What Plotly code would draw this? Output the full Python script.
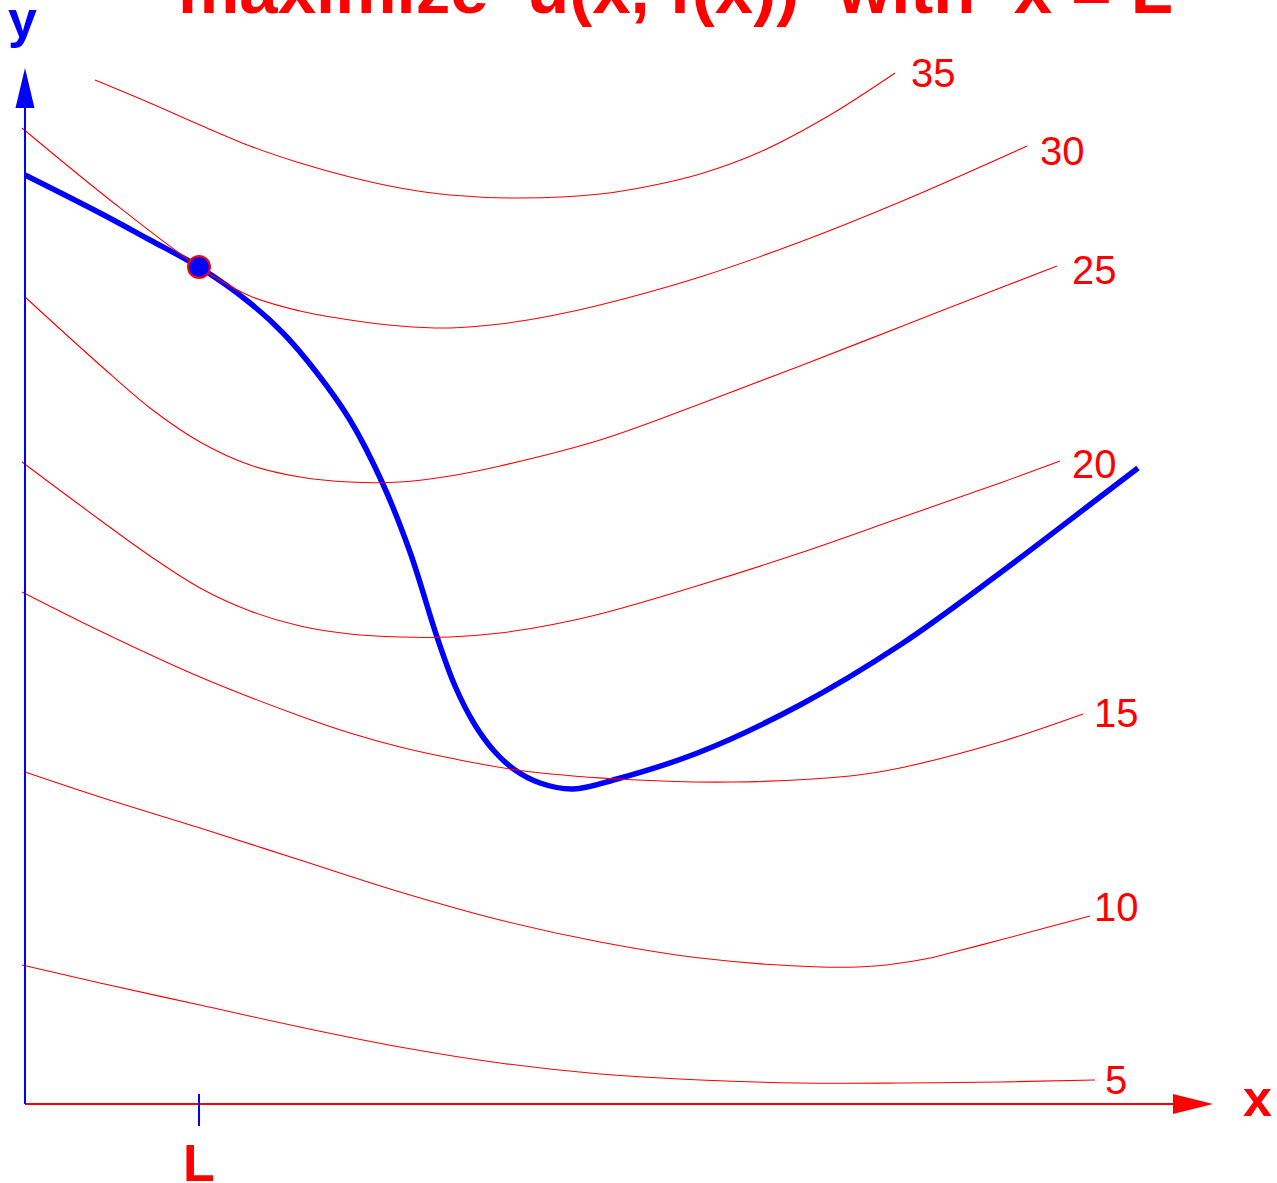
import plotly.graph_objects as go

# Budget/frontier curve y = f(x)
f_x = [0, 0.75, 1.25, 1.74, 2.25, 2.58, 2.92, 3.25, 3.57, 3.85, 4.12, 4.30,
       4.50, 4.70, 4.90, 5.15, 5.48, 5.92, 6.75, 7.75, 8.75, 9.75, 10.75, 11.13]
f_y = [9.29, 8.91, 8.64, 8.37, 8.01, 7.71, 7.31, 6.84, 6.22, 5.52, 4.67, 4.18,
       3.79, 3.52, 3.34, 3.21, 3.15, 3.25, 3.52, 3.99, 4.59, 5.31, 6.07, 6.36]

# Indifference curves u(x, y) = level
levels = [35, 30, 25, 20, 15, 10, 5]

u35_x = [0.70, 1.25, 1.75, 2.25, 2.75, 3.25, 3.75, 4.25, 4.95, 5.75, 6.25, 6.75,
         7.35, 8.05, 8.70]
u35_y = [10.24, 10.01, 9.79, 9.58, 9.41, 9.27, 9.16, 9.09, 9.06, 9.10, 9.18, 9.30,
         9.52, 9.89, 10.31]

u30_x = [-0.03, 0.85, 1.74, 2.25, 2.75, 3.25, 3.75, 4.25, 4.75, 5.25, 5.75, 6.75,
         7.75, 8.75, 10.02]
u30_y = [9.76, 9.04, 8.37, 8.08, 7.93, 7.84, 7.78, 7.76, 7.80, 7.88, 7.99, 8.27,
         8.62, 9.02, 9.58]

u25_x = [0, 0.75, 1.25, 1.75, 2.25, 2.75, 3.25, 3.75, 4.25, 4.75, 5.75, 6.75,
         7.75, 8.75, 9.75, 10.32]
u25_y = [8.07, 7.39, 6.96, 6.62, 6.39, 6.27, 6.22, 6.22, 6.28, 6.38, 6.64, 7.00,
         7.38, 7.77, 8.16, 8.38]

u20_x = [-0.03, 0.75, 1.25, 1.75, 2.25, 2.75, 3.25, 3.75, 4.25, 4.75, 5.25, 5.75,
         6.75, 7.75, 8.75, 9.75, 10.35]
u20_y = [6.42, 5.84, 5.48, 5.16, 4.93, 4.78, 4.70, 4.67, 4.67, 4.71, 4.79, 4.90,
         5.19, 5.51, 5.86, 6.21, 6.43]

u15_x = [-0.03, 0.75, 1.75, 2.75, 3.25, 3.75, 4.25, 4.92, 5.92, 7.08, 8.25, 8.75,
         9.75, 10.58]
u15_y = [5.12, 4.73, 4.27, 3.88, 3.71, 3.57, 3.46, 3.34, 3.25, 3.22, 3.28, 3.36,
         3.62, 3.90]

u10_x = [0, 0.75, 1.75, 2.75, 3.75, 4.75, 5.75, 6.75, 7.95, 8.50, 9.00, 9.25,
         9.75, 10.20, 10.65]
u10_y = [3.32, 3.07, 2.76, 2.44, 2.12, 1.84, 1.62, 1.46, 1.37, 1.38, 1.45, 1.51,
         1.64, 1.76, 1.88]

u5_x = [-0.03, 0.75, 1.75, 2.75, 3.75, 4.75, 5.75, 6.75, 7.75, 8.75, 9.75, 10.70]
u5_y = [1.39, 1.21, 0.99, 0.77, 0.57, 0.41, 0.30, 0.24, 0.21, 0.21, 0.22, 0.24]

curves_x = [u35_x, u30_x, u25_x, u20_x, u15_x, u10_x, u5_x]
curves_y = [u35_y, u30_y, u25_y, u20_y, u15_y, u10_y, u5_y]

# Level label positions (centre of the number)
label_x = [9.08, 10.37, 10.69, 10.69, 10.91, 10.91, 10.91]
label_y = [10.31, 9.53, 8.34, 6.40, 3.91, 1.97, 0.24]

# Constraint point x = L
L = 1.74
L_y = 8.37

# Axis extents
x_end = 11.88
y_end = 10.36

RED = "#ff0000"
BLUE = "#0000ff"
FONT = "Liberation Sans, Arial, sans-serif"

fig = go.Figure()

# Frontier drawn first so the indifference curves lie over it
fig.add_trace(go.Scatter(x=f_x, y=f_y, mode="lines",
                         line=dict(color=BLUE, width=5.5, shape="spline", smoothing=1.0),
                         hoverinfo="skip"))

for cx, cy in zip(curves_x, curves_y):
    fig.add_trace(go.Scatter(x=cx, y=cy, mode="lines",
                             line=dict(color=RED, width=1.1, shape="spline", smoothing=1.0),
                             hoverinfo="skip"))

# Axes: red x axis, blue y axis, with arrowheads
fig.add_trace(go.Scatter(x=[0, x_end - 0.38], y=[0, 0], mode="lines",
                         line=dict(color=RED, width=2), hoverinfo="skip"))
fig.add_trace(go.Scatter(x=[0, 0], y=[0, y_end - 0.4], mode="lines",
                         line=dict(color=BLUE, width=2), hoverinfo="skip"))
fig.add_shape(type="path",
              path=f"M {x_end - 0.40} 0.10 L {x_end} 0 L {x_end - 0.40} -0.10 Z",
              fillcolor=RED, line=dict(color=RED, width=0))
fig.add_shape(type="path",
              path=f"M -0.095 {y_end - 0.40} L 0 {y_end} L 0.095 {y_end - 0.40} Z",
              fillcolor=BLUE, line=dict(color=BLUE, width=0))

# Tick at x = L
fig.add_trace(go.Scatter(x=[L, L], y=[0.10, -0.22], mode="lines",
                         line=dict(color=BLUE, width=2), hoverinfo="skip"))

# Tangency point
fig.add_trace(go.Scatter(x=[L], y=[L_y], mode="markers",
                         marker=dict(size=22, color=BLUE,
                                     line=dict(color=RED, width=2)),
                         hoverinfo="skip"))

annotations = []
for lv, lx, ly in zip(levels, label_x, label_y):
    annotations.append(dict(x=lx, y=ly, xref="x", yref="y", text=str(lv),
                            showarrow=False, xanchor="center", yanchor="middle",
                            font=dict(family=FONT, size=40, color=RED)))

annotations += [
    dict(x=L, y=-0.59, xref="x", yref="y", text="<b>L</b>", showarrow=False,
         xanchor="center", yanchor="middle",
         font=dict(family=FONT, size=52, color=RED)),
    dict(x=12.32, y=0.065, xref="x", yref="y", text="<b>x</b>", showarrow=False,
         xanchor="center", yanchor="middle",
         font=dict(family=FONT, size=52, color=RED)),
    dict(x=-0.03, y=10.85, xref="x", yref="y", text="<b>y</b>", showarrow=False,
         xanchor="center", yanchor="middle",
         font=dict(family=FONT, size=52, color=BLUE)),
    dict(x=0.5286, y=1.0088, xref="paper", yref="paper",
         text="<b>maximize  u(x, f(x))  with  x = L</b>", showarrow=False,
         xanchor="center", yanchor="middle",
         font=dict(family=FONT, size=69, color=RED)),
]

fig.update_layout(
    width=1277, height=1183,
    margin=dict(l=0, r=0, t=0, b=0),
    paper_bgcolor="white", plot_bgcolor="white",
    showlegend=False,
    xaxis=dict(range=[-0.25, 12.52], visible=False, fixedrange=True),
    yaxis=dict(range=[-0.79, 11.04], visible=False, fixedrange=True),
    annotations=annotations,
)

fig.write_html("out.html")
